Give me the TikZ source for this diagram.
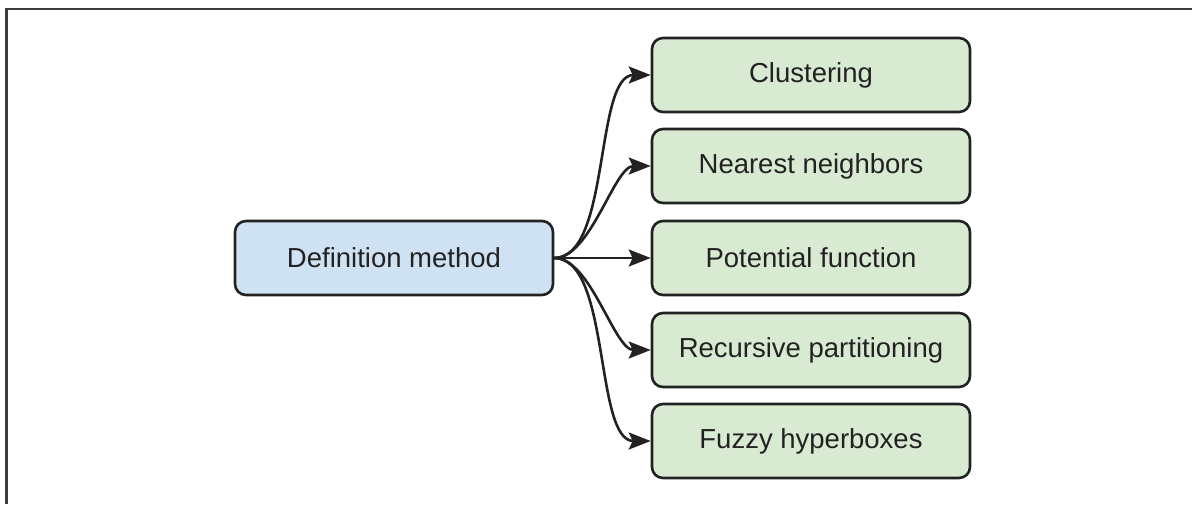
\documentclass[tikz,border=0pt]{standalone}
\usepackage{fontspec}
\setmainfont{Liberation Sans}
\usetikzlibrary{arrows.meta}
\definecolor{bluefill}{RGB}{207,226,243}
\definecolor{greenfill}{RGB}{217,234,211}
\definecolor{edge}{RGB}{34,34,34}
\begin{document}
\begin{tikzpicture}[x=1pt,y=-1pt,
  box/.style={draw=edge,line width=2.6pt,rounded corners=11pt,minimum width=318pt,minimum height=74pt,inner sep=0pt,font=\fontsize{27.5}{32}\selectfont,text=edge},
  src/.style={box,fill=bluefill},
  dst/.style={box,fill=greenfill},
  conn/.style={draw=edge,line width=2.6pt,-{Stealth[length=22pt,width=17pt,inset=4pt]},out=0,in=180,looseness=0.7}]
\useasboundingbox (0,0) rectangle (1192,504);
\draw[line width=2.5pt,draw={rgb,255:red,60;green,60;blue,60}] (6.5,504) -- (6.5,9) -- (1192,9);
\node[src] (def) at (394,258) {Definition method};
\node[dst] (c1) at (811,75) {Clustering};
\node[dst] (c2) at (811,166) {Nearest neighbors};
\node[dst] (c3) at (811,258) {Potential function};
\node[dst] (c4) at (811,350) {Recursive partitioning};
\node[dst] (c5) at (811,441) {Fuzzy hyperboxes};
\foreach \t in {c1,c2,c3,c4,c5}{
  \draw[conn] (def.east) to (\t.west);
}
\end{tikzpicture}
\end{document}
